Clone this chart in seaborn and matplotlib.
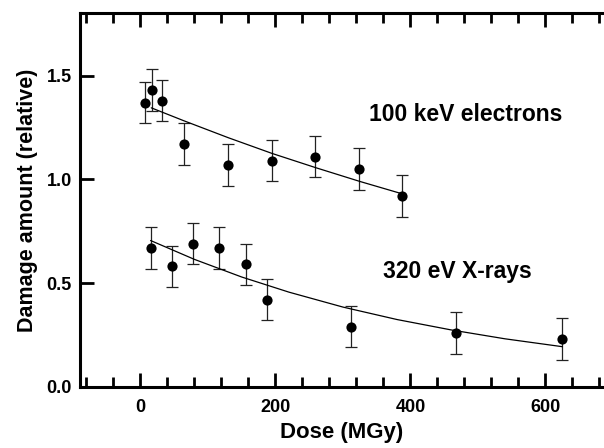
import numpy as np
import pandas as pd
import matplotlib
matplotlib.use("Agg")
import matplotlib.pyplot as plt
from matplotlib.ticker import MultipleLocator, FormatStrFormatter
import seaborn as sns

# ---- data ----
elec_dose = [6, 17, 32, 64, 130, 195, 258, 323, 388]
elec_damage = [1.37, 1.43, 1.38, 1.17, 1.07, 1.09, 1.11, 1.05, 0.92]
elec_err = [0.10, 0.10, 0.10, 0.10, 0.10, 0.10, 0.10, 0.10, 0.10]

xray_dose = [15, 47, 78, 117, 156, 187, 312, 468, 625]
xray_damage = [0.67, 0.58, 0.69, 0.67, 0.59, 0.42, 0.29, 0.26, 0.23]
xray_err = [0.10, 0.10, 0.10, 0.10, 0.10, 0.10, 0.10, 0.10, 0.10]

# fitted curves
elec_fit_dose = [16, 64, 130, 195, 260, 325, 388]
elec_fit_damage = [1.345, 1.283, 1.201, 1.125, 1.056, 0.990, 0.930]
xray_fit_dose = [15, 80, 150, 220, 300, 380, 460, 540, 625]
xray_fit_damage = [0.705, 0.614, 0.529, 0.456, 0.384, 0.324, 0.274, 0.231, 0.193]

x_ticks = [0, 200, 400, 600]
y_ticks = [0.0, 0.5, 1.0, 1.5]
label_elec = "100 keV electrons"
label_xray = "320 eV X-rays"

# ---- style ----
sns.set_style("ticks")
plt.rcParams["font.family"] = ["Liberation Sans", "DejaVu Sans"]
plt.rcParams["font.weight"] = "bold"
for key in ["text.color", "axes.labelcolor", "xtick.color", "ytick.color",
            "axes.edgecolor"]:
    plt.rcParams[key] = "black"

pts = pd.DataFrame({
    "dose": elec_dose + xray_dose,
    "damage": elec_damage + xray_damage,
    "err": elec_err + xray_err,
    "series": [label_elec] * len(elec_dose) + [label_xray] * len(xray_dose),
})
fits = pd.DataFrame({
    "dose": elec_fit_dose + xray_fit_dose,
    "damage": elec_fit_damage + xray_fit_damage,
    "series": [label_elec] * len(elec_fit_dose) + [label_xray] * len(xray_fit_dose),
})

fig = plt.figure(figsize=(6.04, 4.48), dpi=100)
ax = fig.add_axes([80 / 604, 1 - 386.7 / 448, 1 - 80 / 604, (386.7 - 13.5) / 448])

ax.errorbar(pts["dose"], pts["damage"], yerr=pts["err"], fmt="none",
            ecolor="#222222", elinewidth=0.9, capsize=4.2, capthick=0.9, zorder=2)
sns.lineplot(data=fits, x="dose", y="damage", units="series", estimator=None,
             color="black", linewidth=0.9, ax=ax, zorder=3, sort=False)
sns.scatterplot(data=pts, x="dose", y="damage", color="black", s=54,
                edgecolor="black", linewidth=0, ax=ax, zorder=4, legend=False)

ax.set_xlim(-89.6, 686.7)
ax.set_ylim(0, 1.80)
ax.set_xticks(x_ticks)
ax.xaxis.set_minor_locator(MultipleLocator(40))
ax.set_yticks(y_ticks)
ax.yaxis.set_major_formatter(FormatStrFormatter("%.1f"))

for s in ["left", "bottom", "top"]:
    ax.spines[s].set_linewidth(2.2)
    ax.spines[s].set_color("black")
ax.spines["right"].set_visible(False)

ax.tick_params(axis="x", which="major", direction="in", length=10, width=2,
               top=True, bottom=True, labelsize=13, pad=9, color="black",
               labelcolor="black")
ax.tick_params(axis="x", which="minor", direction="in", length=7, width=2,
               top=True, bottom=True, color="black")
ax.tick_params(axis="y", which="major", direction="in", length=10, width=2,
               left=True, right=False, labelsize=13, pad=6, color="black",
               labelcolor="black")
for lab in ax.get_xticklabels() + ax.get_yticklabels():
    lab.set_fontweight("bold")

ax.set_xlabel("Dose (MGy)", fontsize=16, fontweight="bold", labelpad=4,
              color="black")
ax.set_ylabel("Damage amount (relative)", fontsize=15.5, fontweight="bold",
              labelpad=6, color="black")

ax.text(482, 1.312, label_elec, fontsize=16.5, fontweight="bold",
        ha="center", va="center", color="black")
ax.text(469, 0.556, label_xray, fontsize=16.5, fontweight="bold",
        ha="center", va="center", color="black")

fig.savefig("out.png", dpi=100)
